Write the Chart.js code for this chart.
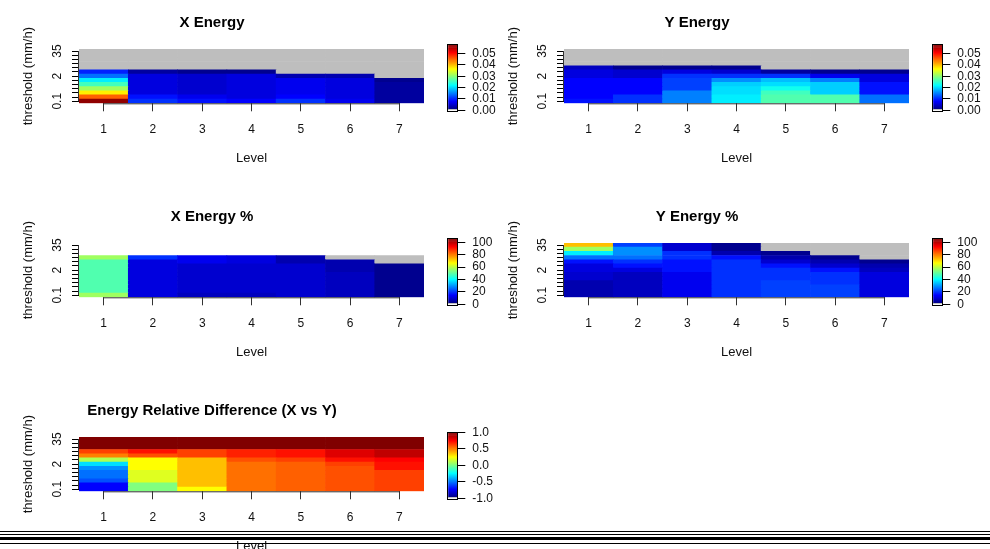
<!DOCTYPE html>
<html>
<head>
<meta charset="utf-8">
<script src="https://cdn.jsdelivr.net/npm/chart.js@4.4.1/dist/chart.umd.min.js"></script>
<style>
    html, body { margin: 0; padding: 0; background: #fff; overflow: hidden; }
    #wrap { position: relative; width: 990px; height: 549px; overflow: hidden; }
    #wrap canvas { position: absolute; }
    .rule { position: absolute; left: 0; width: 990px; background: #000; z-index: 5; }
</style>
</head>
<body>
<div id="wrap">
    <div class="rule" style="top:531px;height:1px"></div>
    <div class="rule" style="top:534px;height:1px"></div>
    <div class="rule" style="top:536.5px;height:3px"></div>
    <div class="rule" style="top:542.5px;height:1.5px"></div>
</div>
<script>
const levels = ['1', '2', '3', '4', '5', '6', '7'];
const thresholds = ['0.1', '0.2', '0.3', '0.5', '0.7', '1', '2', '3', '5', '10', '15', '25', '35'];
const shownThresholds = ['0.1', '2', '35'];

// one array per level, values from the lowest threshold (0.1) to the highest (35)
// 0 = no energy (gray), null = no data
const xEnergy = [
    [0.057, 0.045, 0.037, 0.031, 0.025, 0.021, 0.014, 0.0095, 0, 0, 0, 0, 0],
    [0.0099, 0.0087, 0.0058, 0.0058, 0.0058, 0.0058, 0.0058, 0.0023, 0, 0, 0, 0, 0],
    [0.0087, 0.007, 0.005, 0.005, 0.005, 0.005, 0.005, 0.0012, 0, 0, 0, 0, 0],
    [0.0075, 0.0055, 0.0055, 0.0055, 0.0055, 0.0055, 0.0055, 0.0015, 0, 0, 0, 0, 0],
    [0.0099, 0.008, 0.0064, 0.0064, 0.0064, 0.0064, 0.0029, 0, 0, 0, 0, 0, 0],
    [0.007, 0.0058, 0.0058, 0.0058, 0.0058, 0.0058, 0.0029, 0, 0, 0, 0, 0, 0],
    [0.0025, 0.0025, 0.0025, 0.0025, 0.0025, 0.0012, 0, 0, 0, 0, 0, 0, 0]
];
const yEnergy = [
    [0.0087, 0.0078, 0.0078, 0.0078, 0.0078, 0.0078, 0.0058, 0.0058, 0.0038, 0, 0, 0, 0],
    [0.0099, 0.0099, 0.0078, 0.0078, 0.0078, 0.0078, 0.0052, 0.0052, 0.0012, 0, 0, 0, 0],
    [0.0145, 0.0145, 0.0145, 0.0116, 0.0116, 0.0116, 0.0099, 0.0058, 0.0012, 0, 0, 0, 0],
    [0.0212, 0.0212, 0.0203, 0.0203, 0.019, 0.0157, 0.0099, 0.0052, 0.0012, 0, 0, 0, 0],
    [0.0267, 0.0267, 0.025, 0.0226, 0.0203, 0.018, 0.0104, 0.0023, 0, 0, 0, 0, 0],
    [0.0267, 0.0267, 0.019, 0.019, 0.019, 0.0145, 0.007, 0.0012, 0, 0, 0, 0, 0],
    [0.0138, 0.0138, 0.0087, 0.0087, 0.0087, 0.0058, 0.0058, 0.0012, 0, 0, 0, 0, 0]
];
const xEnergyPct = [
    [56, 48, 48, 48, 48, 48, 48, 48, 48, 56, null, null, null],
    [11, 11, 11, 11, 11, 11, 11, 11, 11, 18, null, null, null],
    [8, 9.5, 9.5, 9.5, 9.5, 9.5, 9.5, 9.5, 12, 12, null, null, null],
    [8, 9.5, 9.5, 9.5, 9.5, 9.5, 9.5, 9.5, 10, 10, null, null, null],
    [9.5, 9.5, 9.5, 9.5, 9.5, 9.5, 9.5, 9.5, 5.3, 5.3, null, null, null],
    [8, 8, 8, 8, 8, 8, 5.3, 5.3, 5.3, 0, null, null, null],
    [2.1, 2.1, 2.1, 2.1, 2.1, 2.1, 2.1, 2.1, 0, 0, null, null, null]
];
const yEnergyPct = [
    [5, 5, 5, 5, 9, 9, 10, 10, 15, 25, 39, 57, 72],
    [8, 8, 8, 8, 8, 8, 10, 15, 18, 25, 29, 29, 21],
    [12, 12, 12, 12, 12, 12, 15, 15, 15, 18, 18, 9.5, 9.5],
    [19, 19, 19, 19, 19, 18, 18, 18, 18, 16, 5, 2, 2],
    [21, 21, 20, 20, 19, 19, 18, 15, 9, 5, 2, 0, 0],
    [21, 21, 20, 19, 18, 18, 15, 9, 5, 2, 0, 0, 0],
    [10, 10, 10, 10, 10, 10, 8, 5, 2, 0, 0, 0, 0]
];
const relDiff = [
    [-0.73, -0.73, -0.6, -0.52, -0.52, -0.46, -0.32, 0.08, 0.5, 0.6, 1, 1, 1],
    [0, 0, 0.18, 0.18, 0.18, 0.24, 0.24, 0.24, 0.58, 0.7, 1, 1, 1],
    [0.24, 0.37, 0.37, 0.37, 0.37, 0.37, 0.37, 0.37, 0.62, 0.62, 1, 1, 1],
    [0.52, 0.52, 0.52, 0.52, 0.52, 0.52, 0.52, 0.58, 0.67, 0.67, 1, 1, 1],
    [0.54, 0.54, 0.54, 0.54, 0.54, 0.54, 0.54, 0.6, 0.7, 0.7, 1, 1, 1],
    [0.58, 0.58, 0.58, 0.58, 0.58, 0.58, 0.6, 0.7, 0.81, 0.81, 1, 1, 1],
    [0.62, 0.62, 0.62, 0.62, 0.62, 0.7, 0.7, 0.75, 0.87, 0.87, 1, 1, 1]
];

const energyRange = [0, 0.058];
const pctRange = [0, 106];
const diffRange = [-1, 1];
const energyTicks = [0, 0.01, 0.02, 0.03, 0.04, 0.05];
const pctTicks = [0, 20, 40, 60, 80, 100];
const diffTicks = [-1, -0.5, 0, 0.5, 1];

const FONT = "'Liberation Sans', Arial, sans-serif";
const INK = '#111';
const NA_GRAY = '#BEBEBE';

// tim.colors(64) style palette, gray in front for the lowest bin
function timColors(n) {
    var stops = [[0, [0, 0, 143]], [7, [0, 0, 255]], [23, [0, 255, 255]], [39, [255, 255, 0]], [55, [255, 0, 0]], [63, [128, 0, 0]]];
    var out = [];
    for (var i = 0; i < n; i++) {
        var k = 0;
        while (k < stops.length - 2 && i > stops[k + 1][0]) k++;
        var a = stops[k], b = stops[k + 1];
        var f = (i - a[0]) / (b[0] - a[0]);
        var c = a[1].map(function (v, j) { return Math.round(v + (b[1][j] - v) * f); });
        out.push('rgb(' + c.join(',') + ')');
    }
    return out;
}
const palette = [NA_GRAY].concat(timColors(64));

function cellColor(v, range) {
    if (v === null) return 'rgba(0,0,0,0)';
    var idx = Math.floor((v - range[0]) / (range[1] - range[0]) * palette.length);
    idx = Math.max(0, Math.min(palette.length - 1, idx));
    return palette[idx];
}

function addCanvas(left, top, w, h) {
    var c = document.createElement('canvas');
    c.width = w; c.height = h;
    c.style.left = left + 'px'; c.style.top = top + 'px';
    c.style.width = w + 'px'; c.style.height = h + 'px';
    document.getElementById('wrap').appendChild(c);
    return c;
}

// R style axis line, from first to last tick only
const rAxisLine = {
    id: 'rAxisLine',
    afterDraw: function (chart) {
        var ctx = chart.ctx, x = chart.scales.x, y = chart.scales.y;
        ctx.save();
        ctx.strokeStyle = '#333';
        ctx.lineWidth = 1;
        ctx.beginPath();
        ctx.moveTo(x.getPixelForTick(0), y.bottom + 0.5);
        ctx.lineTo(x.getPixelForTick(levels.length - 1), y.bottom + 0.5);
        ctx.moveTo(x.left - 0.5, y.getPixelForValue(0.5));
        ctx.lineTo(x.left - 0.5, y.getPixelForValue(thresholds.length - 0.5));
        ctx.stroke();
        ctx.restore();
    }
};

const frameBox = {
    id: 'frameBox',
    afterDraw: function (chart) {
        var a = chart.chartArea, ctx = chart.ctx;
        ctx.save();
        ctx.strokeStyle = '#000';
        ctx.lineWidth = 1;
        ctx.strokeRect(Math.round(a.left) - 0.5, Math.round(a.top) - 0.5, Math.round(a.right - a.left) + 1, Math.round(a.bottom - a.top) + 1);
        ctx.restore();
    }
};

function heatmap(ox, oy, title, cols, range) {
    var H = 175;
    var canvas = addCanvas(ox, oy, 440, H);
    var datasets = thresholds.map(function (thr, r) {
        return {
            label: thr,
            data: levels.map(function () { return 1; }),
            backgroundColor: cols.map(function (col) { return cellColor(col[r], range); }),
            borderWidth: 0,
            barPercentage: 1,
            categoryPercentage: 1
        };
    });
    return new Chart(canvas, {
        type: 'bar',
        data: { labels: levels, datasets: datasets },
        plugins: [rAxisLine],
        options: {
            responsive: false,
            animation: false,
            layout: { padding: { left: 0, right: 16, top: 0, bottom: 0 } },
            plugins: {
                legend: { display: false },
                tooltip: { enabled: false },
                title: {
                    display: true, text: title, color: '#000',
                    font: { family: FONT, size: 15, weight: 'bold' },
                    padding: { top: 14, bottom: 17 }
                }
            },
            scales: {
                x: {
                    stacked: true,
                    grid: { offset: false, drawOnChartArea: false, tickLength: 8, color: '#333' },
                    border: { display: false },
                    ticks: { color: INK, padding: 11, font: { family: FONT, size: 12 } },
                    title: { display: true, text: 'Level', color: INK, font: { family: FONT, size: 13 }, padding: { top: 0, bottom: 9 } },
                    afterFit: function (s) { s.height = H - 103.3; }
                },
                y: {
                    stacked: true, min: 0, max: thresholds.length,
                    grid: { drawOnChartArea: false, tickLength: 7, color: '#000' },
                    border: { display: false },
                    afterBuildTicks: function (s) {
                        s.ticks = thresholds.map(function (t, i) { return { value: i + 0.5 }; });
                    },
                    ticks: {
                        autoSkip: false, minRotation: 90, maxRotation: 90, crossAlign: 'center',
                        padding: 5.5, color: INK, font: { family: FONT, size: 12 },
                        callback: function (v, i) {
                            return shownThresholds.indexOf(thresholds[i]) >= 0 ? thresholds[i] : '';
                        }
                    },
                    title: { display: true, text: 'threshold (mm/h)', color: INK, font: { family: FONT, size: 13 }, padding: { top: 21, bottom: 0 } },
                    afterFit: function (s) { s.width = 79; }
                }
            }
        }
    });
}

function colorbar(ox, oy, range, tickValues, digits) {
    var W = 60, H = 175;
    var canvas = addCanvas(ox + 440, oy, W, H);
    var step = (range[1] - range[0]) / palette.length;
    // one floating block per colour, all on the same spot
    var datasets = palette.map(function (col, i) {
        var lo = range[0] + i * step;
        return {
            data: [[lo, lo + step]], backgroundColor: col, borderWidth: 0,
            barPercentage: 1, categoryPercentage: 1, grouped: false
        };
    });
    return new Chart(canvas, {
        type: 'bar',
        data: { labels: [''], datasets: datasets },
        plugins: [frameBox],
        options: {
            responsive: false,
            animation: false,
            layout: { padding: { left: 8.3, right: 0, top: 44.5, bottom: H - 110.3 } },
            plugins: { legend: { display: false }, tooltip: { enabled: false } },
            scales: {
                x: { display: false },
                y: {
                    position: 'right', min: range[0], max: range[1],
                    grid: { drawOnChartArea: false, tickLength: 8, color: '#000' },
                    border: { display: false },
                    afterBuildTicks: function (s) {
                        s.ticks = tickValues.map(function (v) { return { value: v }; });
                    },
                    ticks: {
                        autoSkip: false, padding: 7, color: INK, font: { family: FONT, size: 12 },
                        callback: function (v) { return v.toFixed(digits); }
                    },
                    afterFit: function (s) { s.width = W - 8.3 - 9; }
                }
            }
        }
    });
}

heatmap(0, 0, 'X Energy', xEnergy, energyRange);
colorbar(0, 0, energyRange, energyTicks, 2);
heatmap(485, 0, 'Y Energy', yEnergy, energyRange);
colorbar(485, 0, energyRange, energyTicks, 2);
heatmap(0, 194, 'X Energy %', xEnergyPct, pctRange);
colorbar(0, 194, pctRange, pctTicks, 0);
heatmap(485, 194, 'Y Energy %', yEnergyPct, pctRange);
colorbar(485, 194, pctRange, pctTicks, 0);
heatmap(0, 388, 'Energy Relative Difference (X vs Y)', relDiff, diffRange);
colorbar(0, 388, diffRange, diffTicks, 1);
</script>
</body>
</html>
